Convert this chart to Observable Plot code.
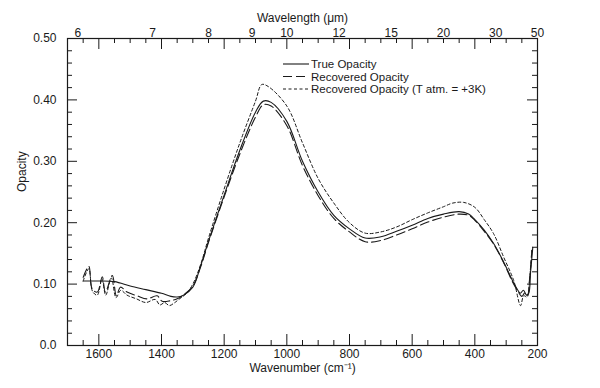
<!DOCTYPE html>
<html>
<head>
<meta charset="utf-8">
<script src="https://cdn.jsdelivr.net/npm/d3@7"></script>
<script src="https://cdn.jsdelivr.net/npm/@observablehq/plot@0.6"></script>
<style>
  html, body { margin: 0; padding: 0; background: #fff; }
  #chart { width: 600px; height: 388px; }
</style>
</head>
<body>
<div id="chart"></div>
<script>
// ---- Data ----
const trueWn = [1650, 1600, 1550, 1500, 1450, 1400, 1370, 1350, 1330, 1300, 1275, 1250, 1200, 1150, 1100, 1075, 1050, 1000, 950, 900, 850, 800, 750, 700, 650, 600, 550, 500, 450, 420, 400, 370, 340, 310, 280, 265, 255, 245, 235, 228, 222, 215];
const trueOp = [0.105, 0.105, 0.104, 0.097, 0.091, 0.085, 0.080, 0.079, 0.082, 0.095, 0.130, 0.170, 0.245, 0.318, 0.380, 0.398, 0.396, 0.365, 0.300, 0.250, 0.212, 0.190, 0.175, 0.177, 0.186, 0.196, 0.207, 0.214, 0.218, 0.214, 0.205, 0.188, 0.166, 0.138, 0.106, 0.092, 0.085, 0.090, 0.082, 0.085, 0.120, 0.160];

const recWn = [1650, 1632, 1621, 1605, 1589, 1579, 1557, 1544, 1531, 1510, 1478, 1446, 1414, 1398, 1371, 1350, 1330, 1300, 1275, 1250, 1200, 1150, 1100, 1075, 1050, 1000, 950, 900, 850, 800, 750, 700, 650, 600, 550, 500, 450, 420, 400, 370, 340, 310, 280, 262, 250, 240, 232, 225, 218];
const recOp = [0.111, 0.129, 0.092, 0.087, 0.112, 0.087, 0.114, 0.081, 0.095, 0.087, 0.081, 0.076, 0.081, 0.072, 0.073, 0.076, 0.082, 0.097, 0.128, 0.168, 0.242, 0.312, 0.372, 0.392, 0.390, 0.358, 0.293, 0.244, 0.207, 0.185, 0.169, 0.171, 0.180, 0.190, 0.201, 0.209, 0.214, 0.212, 0.204, 0.186, 0.165, 0.137, 0.104, 0.088, 0.080, 0.086, 0.082, 0.110, 0.155];

const rec3kWn = [1650, 1632, 1620, 1605, 1590, 1578, 1560, 1545, 1530, 1510, 1480, 1450, 1420, 1405, 1390, 1375, 1360, 1345, 1320, 1300, 1275, 1250, 1200, 1150, 1100, 1080, 1060, 1000, 950, 900, 850, 800, 750, 700, 650, 600, 550, 500, 470, 435, 400, 370, 340, 308, 276, 254, 244, 233, 225, 218];
const rec3kOp = [0.105, 0.125, 0.088, 0.082, 0.108, 0.082, 0.110, 0.078, 0.090, 0.082, 0.076, 0.070, 0.075, 0.066, 0.070, 0.065, 0.069, 0.075, 0.085, 0.100, 0.132, 0.175, 0.255, 0.330, 0.398, 0.425, 0.422, 0.390, 0.330, 0.272, 0.232, 0.200, 0.183, 0.185, 0.193, 0.205, 0.216, 0.226, 0.232, 0.233, 0.225, 0.205, 0.182, 0.144, 0.106, 0.065, 0.081, 0.079, 0.110, 0.155];

const seriesNames = ["True Opacity", "Recovered Opacity", "Recovered Opacity (T atm. = +3K)"];

const xMajorTicks = [1600, 1400, 1200, 1000, 800, 600, 400, 200];
const xMinorTicks = [1650, 1550, 1500, 1450, 1350, 1300, 1250, 1150, 1100, 1050, 950, 900, 850, 750, 700, 650, 550, 500, 450, 350, 300, 250];
const yMajorTicks = [0, 0.1, 0.2, 0.3, 0.4, 0.5];
const yMinorTicks = [0.02, 0.04, 0.06, 0.08, 0.12, 0.14, 0.16, 0.18, 0.22, 0.24, 0.26, 0.28, 0.32, 0.34, 0.36, 0.38, 0.42, 0.44, 0.46, 0.48];
const wavelengthLabels = [6, 7, 8, 9, 10, 12, 15, 20, 30, 50];

// ---- Build tables ----
const toRows = (wn, op, name) => wn.map((w, i) => ({wn: w, op: op[i], series: name}));
const trueRows = toRows(trueWn, trueOp, seriesNames[0]);
const recRows = toRows(recWn, recOp, seriesNames[1]);
const rec3kRows = toRows(rec3kWn, rec3kOp, seriesNames[2]);

// ---- Layout ----
const W = 600, H = 388;
const mL = 67, mR = 63, mT = 38, mB = 43;
const pW = W - mL - mR, pH = H - mT - mB;
const font = "'Liberation Sans', Arial, Helvetica, sans-serif";
const ink = "#1a1a1a";
const dashes = [null, "9,4", "3,2.5"];

const majorLenV = 11, minorLenV = 5;   // ticks on horizontal axes
const majorLenH = 10, minorLenH = 5;   // ticks on vertical axes

const tickStyle = {stroke: ink, strokeOpacity: 1, strokeWidth: 1};

const chart = Plot.plot({
  width: W, height: H,
  marginLeft: mL, marginRight: mR, marginTop: mT, marginBottom: mB,
  style: {fontFamily: font, fontSize: "12px", color: ink, background: "#fff"},
  x: {domain: [1700, 200], label: null},
  y: {domain: [0, 0.5], label: null},
  marks: [
    // inward ticks: bottom
    Plot.gridX(xMajorTicks, {...tickStyle, insetTop: pH - majorLenV}),
    Plot.gridX(xMinorTicks, {...tickStyle, insetTop: pH - minorLenV}),
    // top (mirror)
    Plot.gridX(xMajorTicks, {...tickStyle, insetBottom: pH - majorLenV}),
    Plot.gridX(xMinorTicks, {...tickStyle, insetBottom: pH - minorLenV}),
    // left
    Plot.gridY(yMajorTicks, {...tickStyle, insetRight: pW - majorLenH}),
    Plot.gridY(yMinorTicks, {...tickStyle, insetRight: pW - minorLenH}),
    // right (mirror)
    Plot.gridY(yMajorTicks, {...tickStyle, insetLeft: pW - majorLenH}),
    Plot.gridY(yMinorTicks, {...tickStyle, insetLeft: pW - minorLenH}),

    // axis labels
    Plot.axisX({anchor: "bottom", ticks: xMajorTicks, tickFormat: d => String(d), tickSize: 0, tickPadding: 4, fontSize: 12, label: null, fill: ink}),
    Plot.axisX({anchor: "top", ticks: wavelengthLabels.map(l => 1e4 / l), tickFormat: d => String(Math.round(1e4 / d)), tickSize: 0, tickPadding: 2, fontSize: 12, label: null, fill: ink}),
    Plot.axisY({anchor: "left", ticks: yMajorTicks, tickFormat: d => d === 0 ? "0.0" : d.toFixed(2), tickSize: 0, tickPadding: 11, fontSize: 12, label: null, fill: ink}),

    Plot.text(["Wavenumber (cm\u207B\u00B9)"], {frameAnchor: "bottom", dy: 26, fontSize: 12, fill: ink}),
    Plot.text(["Wavelength (\u03BCm)"], {frameAnchor: "top", dy: -25, fontSize: 12, fill: ink}),
    Plot.text(["Opacity"], {frameAnchor: "left", dx: -45, rotate: -90, fontSize: 12, fill: ink}),

    // curves
    Plot.line(trueRows, {x: "wn", y: "op", stroke: ink, strokeWidth: 1.1, curve: "catmull-rom"}),
    Plot.line(recRows, {x: "wn", y: "op", stroke: ink, strokeWidth: 1.1, strokeDasharray: dashes[1], curve: "catmull-rom"}),
    Plot.line(rec3kRows, {x: "wn", y: "op", stroke: ink, strokeWidth: 1, strokeDasharray: dashes[2], curve: "catmull-rom"}),

    Plot.frame({stroke: ink, strokeWidth: 1.2})
  ]
});

// ---- Legend (inside plot, upper middle) ----
const svg = d3.select(chart);
const lg = svg.append("g").attr("font-family", font).attr("font-size", 11.5).attr("fill", ink).attr("text-anchor", "start");
const lx0 = 283, lx1 = 309, ly0 = 64, lstep = 12.5;
seriesNames.forEach((name, i) => {
  const y = ly0 + i * lstep;
  const line = lg.append("line").attr("x1", lx0).attr("x2", lx1).attr("y1", y).attr("y2", y)
    .attr("stroke", ink).attr("stroke-width", i === 2 ? 1 : 1.1);
  if (dashes[i]) line.attr("stroke-dasharray", dashes[i]);
  lg.append("text").attr("x", lx1 + 2).attr("y", y).attr("dy", "0.35em").attr("text-anchor", "start").text(name);
});

document.getElementById("chart").appendChild(chart);
</script>
</body>
</html>
